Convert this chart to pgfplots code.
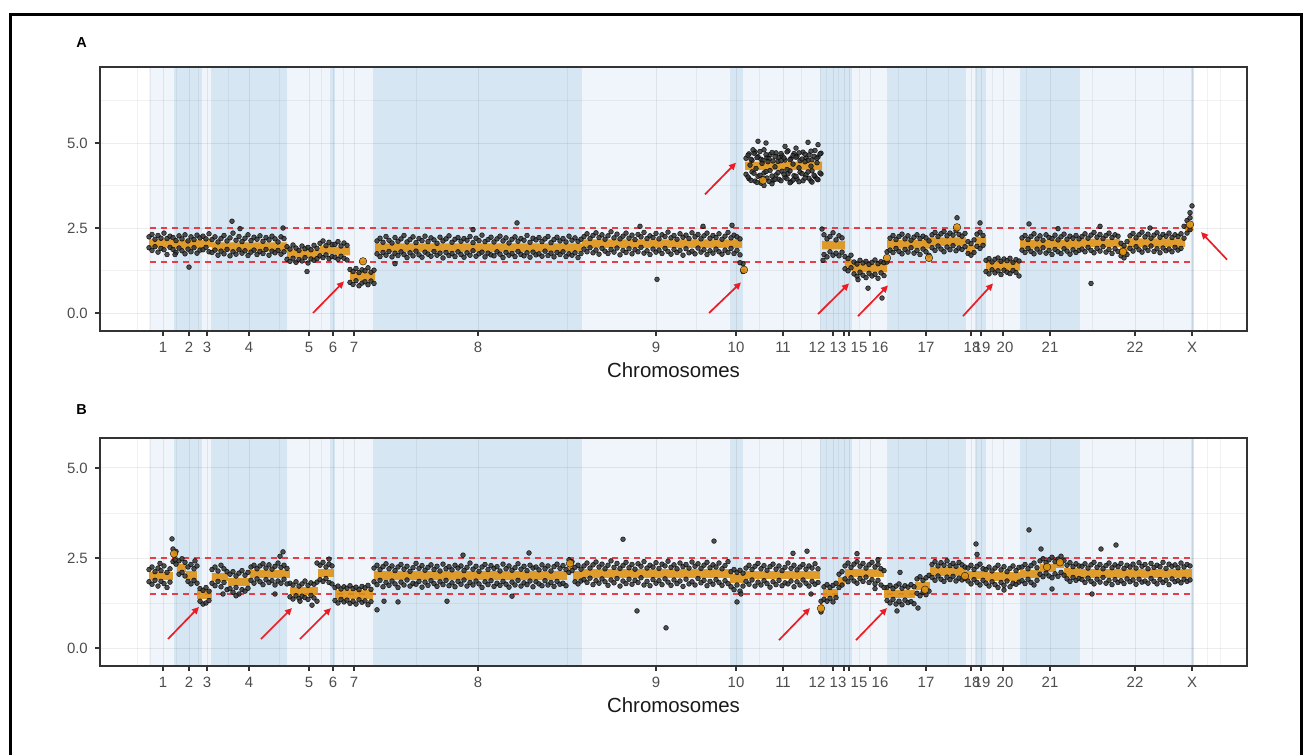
\documentclass[border=0pt]{standalone}
\usepackage{pgfplots}
\pgfplotsset{compat=1.18}
\usepackage{pgfplotstable}
\usepackage{fontspec}
\setmainfont{Liberation Sans}
\usetikzlibrary{arrows.meta}
\definecolor{bandM}{RGB}{214,230,242}
\definecolor{bandL}{RGB}{239,245,250}
\definecolor{orng}{RGB}{222,145,18}
\definecolor{redd}{RGB}{232,60,72}
\definecolor{arrred}{RGB}{237,28,36}
\definecolor{tickgrey}{RGB}{77,77,77}
\definecolor{framec}{RGB}{51,51,51}

\pgfplotstableread{
x u l
149 2.24 1.92
152 2.31 1.84
155 2.17 1.95
158 2.28 1.79
161 2.20 1.90
164 2.35 1.86
167 2.19 1.72
170 2.26 1.93
173 2.22 1.87
176 2.13 1.78
179 2.27 1.91
182 2.18 1.83
185 2.30 1.74
188 2.12 1.88
191 2.24 1.80
194 2.16 1.92
197 2.29 1.76
200 2.21 1.85
203 2.26 1.86
206 2.18 1.93
209 2.33 1.80
212 2.16 1.78
215 2.24 1.85
218 2.09 1.70
221 2.19 1.82
224 2.28 1.74
227 2.12 1.87
230 2.21 1.68
233 2.35 1.80
236 2.14 1.73
239 2.25 1.86
242 2.10 1.76
245 2.20 1.83
248 2.30 1.69
251 2.13 1.79
254 2.23 1.85
257 2.17 1.72
260 2.27 1.81
263 2.11 1.75
266 2.22 1.87
269 2.15 1.70
272 2.26 1.82
275 2.18 1.77
278 2.09 1.84
281 2.24 1.73
284 2.19 1.80
287 1.95 1.58
290 1.88 1.52
293 2.00 1.61
296 1.91 1.49
299 1.84 1.57
302 1.97 1.53
305 1.89 1.63
308 1.93 1.47
311 1.86 1.59
314 1.99 1.55
317 1.90 1.60
320 2.05 1.68
323 2.12 1.63
326 1.98 1.71
329 2.08 1.60
332 2.01 1.66
335 2.02 1.64
338 2.10 1.58
341 1.97 1.67
344 2.06 1.61
347 1.99 1.56
350 1.28 0.90
353 1.22 0.84
356 1.31 0.95
359 1.19 0.80
362 1.27 0.88
365 1.24 0.92
368 1.33 0.83
371 1.20 0.94
374 1.26 0.87
377 2.12 1.74
380 2.20 1.66
383 2.08 1.78
386 2.25 1.70
389 2.14 1.81
392 2.06 1.65
395 2.22 1.76
398 2.11 1.69
401 2.18 1.80
404 2.28 1.72
407 2.09 1.63
410 2.16 1.77
413 2.24 1.68
416 2.07 1.82
419 2.19 1.71
422 2.13 1.64
425 2.26 1.79
428 2.10 1.73
431 2.21 1.67
434 2.15 1.81
437 2.05 1.70
440 2.23 1.76
443 2.12 1.62
446 2.18 1.78
449 2.27 1.69
452 2.08 1.75
455 2.17 1.66
458 2.22 1.80
461 2.11 1.72
464 2.19 1.64
467 2.14 1.77
470 2.25 1.70
473 2.07 1.83
476 2.20 1.67
479 2.13 1.74
482 2.29 1.79
485 2.10 1.65
488 2.16 1.76
491 2.23 1.71
494 2.09 1.68
497 2.18 1.80
500 2.26 1.73
503 2.12 1.63
506 2.21 1.78
509 2.06 1.70
512 2.17 1.75
515 2.24 1.66
518 2.11 1.81
521 2.19 1.72
524 2.14 1.68
527 2.28 1.77
530 2.08 1.64
533 2.20 1.79
536 2.15 1.71
539 2.22 1.74
542 2.10 1.67
545 2.18 1.82
548 2.25 1.69
551 2.07 1.76
554 2.16 1.65
557 2.23 1.78
560 2.12 1.72
563 2.19 1.80
566 2.09 1.66
569 2.26 1.74
572 2.14 1.70
575 2.21 1.77
578 2.11 1.63
581 2.17 1.75
584 2.25 1.88
587 2.33 1.80
590 2.19 1.92
593 2.28 1.77
596 2.36 1.85
599 2.22 1.73
602 2.30 1.90
605 2.17 1.82
608 2.27 1.75
611 2.39 1.87
614 2.21 1.79
617 2.32 1.91
620 2.18 1.71
623 2.26 1.84
626 2.35 1.78
629 2.20 1.89
632 2.29 1.74
635 2.16 1.86
638 2.31 1.80
641 2.24 1.93
644 2.37 1.76
647 2.19 1.83
650 2.27 1.72
653 2.22 1.88
656 2.34 1.79
659 2.18 1.85
662 2.30 1.75
665 2.25 1.90
668 2.38 1.81
671 2.21 1.73
674 2.28 1.87
677 2.17 1.78
680 2.33 1.84
683 2.23 1.70
686 2.29 1.89
689 2.19 1.77
692 2.36 1.82
695 2.24 1.74
698 2.31 1.91
701 2.18 1.79
704 2.27 1.86
707 2.35 1.72
710 2.20 1.83
713 2.28 1.76
716 2.22 1.88
719 2.33 1.80
722 2.17 1.73
725 2.26 1.85
728 2.37 1.78
731 2.21 1.90
734 2.29 1.75
737 2.24 1.84
740 2.18 1.71
743 1.45 1.22
746 4.55 4.08
749 4.68 3.95
752 4.49 4.15
755 4.74 3.88
758 4.60 4.02
761 4.52 3.82
764 4.80 4.12
767 4.57 3.97
770 4.66 4.19
773 4.47 3.90
776 4.71 4.06
779 4.58 3.93
782 4.63 4.17
785 4.50 3.99
788 4.77 4.10
791 4.54 3.86
794 4.69 4.04
797 4.61 3.94
800 4.48 4.14
803 4.73 3.89
806 4.56 4.07
809 4.65 3.96
812 4.51 4.18
815 4.78 4.01
818 4.59 3.92
821 4.70 4.09
824 2.30 1.72
827 2.18 1.65
830 2.25 1.80
833 2.36 1.70
836 2.15 1.76
839 2.27 1.68
842 2.21 1.79
845 1.66 1.30
848 1.60 1.24
851 1.70 1.33
854 1.50 1.15
857 1.44 1.08
860 1.55 1.20
863 1.47 1.11
866 1.52 1.04
869 1.43 1.17
872 1.49 1.09
875 1.56 1.14
878 1.45 1.02
881 1.51 1.18
884 1.48 1.10
887 1.80 1.50
890 2.20 1.85
893 2.28 1.78
896 2.16 1.90
899 2.25 1.81
902 2.32 1.74
905 2.18 1.87
908 2.27 1.79
911 2.14 1.92
914 2.23 1.76
917 2.30 1.84
920 2.19 1.72
923 2.26 1.88
926 2.21 1.80
929 2.12 1.70
932 2.30 1.92
935 2.37 1.84
938 2.25 1.97
941 2.33 1.88
944 2.40 1.80
947 2.27 1.94
950 2.35 1.86
953 2.29 1.98
956 2.42 1.83
959 2.31 1.91
962 2.26 1.87
965 2.34 1.95
968 2.10 1.75
971 2.04 1.70
974 2.15 1.78
977 2.32 1.96
980 2.38 1.90
983 2.28 1.99
986 1.55 1.22
989 1.60 1.15
992 1.50 1.27
995 1.58 1.18
998 1.62 1.24
1001 1.52 1.13
1004 1.59 1.26
1007 1.54 1.20
1010 1.61 1.16
1013 1.49 1.25
1016 1.57 1.19
1019 1.53 1.09
1022 2.21 1.85
1025 2.28 1.78
1028 2.16 1.90
1031 2.25 1.81
1034 2.33 1.74
1037 2.18 1.88
1040 2.27 1.79
1043 2.14 1.92
1046 2.30 1.76
1049 2.22 1.84
1052 2.19 1.72
1055 2.29 1.87
1058 2.15 1.80
1061 2.24 1.75
1064 2.32 1.89
1067 2.17 1.82
1070 2.26 1.73
1073 2.20 1.86
1076 2.28 1.78
1079 2.18 1.84
1082 2.25 1.88
1085 2.33 1.80
1088 2.20 1.93
1091 2.29 1.84
1094 2.37 1.77
1097 2.23 1.90
1100 2.31 1.82
1103 2.19 1.95
1106 2.28 1.79
1109 2.35 1.87
1112 2.22 1.75
1115 2.30 1.89
1118 2.26 1.81
1121 2.05 1.68
1124 1.98 1.62
1127 2.10 1.72
1130 2.27 1.90
1133 2.34 1.82
1136 2.21 1.95
1139 2.30 1.86
1142 2.38 1.79
1145 2.24 1.92
1148 2.32 1.84
1151 2.20 1.97
1154 2.29 1.81
1157 2.36 1.89
1160 2.23 1.77
1163 2.31 1.91
1166 2.26 1.83
1169 2.35 1.88
1172 2.22 1.80
1175 2.30 1.93
1178 2.25 1.85
1181 2.33 1.90
1184 2.55 2.20
1187 2.72 2.35
1190 2.80 2.45
}\dataA

\pgfplotstableread{
x u l
748 4.64 4.00
751 4.52 3.90
754 4.70 4.11
757 4.57 3.84
760 4.75 4.05
763 4.49 3.96
766 4.66 4.16
769 4.54 3.87
772 4.72 4.03
775 4.60 3.93
778 4.46 4.13
781 4.69 3.89
784 4.56 4.08
787 4.74 3.95
790 4.51 4.18
793 4.63 3.91
796 4.58 4.02
799 4.71 3.86
802 4.53 4.10
805 4.67 3.97
808 4.49 4.15
811 4.76 3.88
814 4.61 4.05
817 4.55 3.94
820 4.68 4.12
}\gainA

\pgfplotstableread{
x y
175 1.72
189 1.35
232 2.70
240 2.48
283 2.50
307 1.22
395 1.45
473 2.45
517 2.65
640 2.55
657 0.99
703 2.55
732 2.58
740 1.48
750 4.35
753 4.80
756 4.25
758 5.05
762 4.40
764 3.75
766 5.00
768 4.45
772 3.80
775 4.30
781 4.48
785 4.90
787 4.22
790 3.83
793 4.38
796 4.85
799 4.27
805 4.45
808 5.02
811 4.32
812 3.85
817 4.42
818 4.95
822 2.47
823 1.55
858 0.98
868 0.73
882 0.44
957 2.80
980 2.65
1029 2.62
1058 2.48
1091 0.87
1100 2.55
1150 2.50
1190 2.95
1192 3.15
}\extraA

\pgfplotstableread{
x u l
149 2.18 1.84
152 2.25 1.77
155 2.12 1.88
158 2.22 1.72
161 2.15 1.85
164 2.28 1.79
167 2.10 1.68
170 2.20 1.83
173 2.75 2.40
176 2.68 2.33
179 2.42 2.05
182 2.48 2.10
185 2.38 2.00
188 2.25 1.85
191 2.32 1.78
194 2.20 1.88
197 2.28 1.80
200 1.65 1.30
203 1.60 1.22
206 1.68 1.25
209 1.58 1.32
212 2.18 1.80
215 2.25 1.73
218 2.14 1.85
221 2.30 1.70
224 2.20 1.82
227 2.12 1.62
230 2.05 1.65
233 2.12 1.55
236 2.00 1.68
239 2.08 1.50
242 2.15 1.62
245 2.02 1.58
248 2.10 1.66
251 2.25 1.88
254 2.30 1.80
257 2.20 1.92
260 2.28 1.84
263 2.34 1.76
266 2.22 1.90
269 2.31 1.82
272 2.19 1.87
275 2.27 1.75
278 2.36 1.86
281 2.24 1.80
284 2.30 1.91
287 2.21 1.78
290 1.80 1.42
293 1.75 1.36
296 1.84 1.45
299 1.72 1.38
302 1.78 1.44
305 1.86 1.40
308 1.74 1.35
311 1.81 1.46
314 1.77 1.39
317 1.83 1.30
320 2.30 1.90
323 2.38 1.85
326 2.25 1.93
329 2.33 1.82
332 2.28 1.78
335 1.68 1.32
338 1.72 1.25
341 1.64 1.35
344 1.70 1.28
347 1.66 1.33
350 1.73 1.24
353 1.65 1.30
356 1.69 1.22
359 1.62 1.34
362 1.71 1.27
365 1.67 1.31
368 1.74 1.20
371 1.63 1.29
374 2.22 1.84
377 2.30 1.76
380 2.18 1.88
383 2.26 1.70
386 2.34 1.82
389 2.20 1.74
392 2.28 1.86
395 2.15 1.78
398 2.25 1.68
401 2.32 1.83
404 2.19 1.75
407 2.27 1.89
410 2.13 1.72
413 2.23 1.80
416 2.35 1.77
419 2.21 1.85
422 2.29 1.69
425 2.16 1.83
428 2.24 1.74
431 2.31 1.87
434 2.18 1.79
437 2.27 1.71
440 2.14 1.84
443 2.33 1.76
446 2.20 1.88
449 2.26 1.73
452 2.17 1.81
455 2.30 1.70
458 2.22 1.85
461 2.28 1.77
464 2.15 1.89
467 2.24 1.72
470 2.36 1.82
473 2.19 1.75
476 2.27 1.86
479 2.13 1.78
482 2.25 1.68
485 2.32 1.84
488 2.18 1.76
491 2.29 1.87
494 2.21 1.71
497 2.26 1.80
500 2.14 1.74
503 2.33 1.85
506 2.20 1.77
509 2.28 1.69
512 2.16 1.83
515 2.23 1.75
518 2.34 1.88
521 2.19 1.72
524 2.27 1.81
527 2.15 1.76
530 2.30 1.86
533 2.22 1.70
536 2.25 1.84
539 2.17 1.78
542 2.31 1.73
545 2.20 1.87
548 2.28 1.75
551 2.14 1.82
554 2.26 1.71
557 2.33 1.85
560 2.21 1.77
563 2.29 1.80
566 2.18 1.73
569 2.45 2.10
572 2.40 2.15
575 2.24 1.84
578 2.30 1.78
581 2.19 1.86
584 2.28 1.90
587 2.36 1.82
590 2.22 1.94
593 2.31 1.76
596 2.39 1.87
599 2.25 1.80
602 2.33 1.92
605 2.20 1.84
608 2.30 1.74
611 2.42 1.89
614 2.24 1.81
617 2.35 1.93
620 2.21 1.72
623 2.29 1.86
626 2.38 1.79
629 2.23 1.91
632 2.32 1.77
635 2.19 1.88
638 2.34 1.82
641 2.27 1.95
644 2.40 1.75
647 2.22 1.85
650 2.30 1.73
653 2.25 1.90
656 2.37 1.80
659 2.21 1.87
662 2.33 1.76
665 2.28 1.92
668 2.41 1.83
671 2.24 1.74
674 2.31 1.89
677 2.20 1.79
680 2.36 1.86
683 2.26 1.71
686 2.32 1.91
689 2.22 1.78
692 2.39 1.84
695 2.27 1.75
698 2.34 1.93
701 2.21 1.81
704 2.30 1.88
707 2.38 1.73
710 2.23 1.85
713 2.31 1.77
716 2.25 1.90
719 2.36 1.82
722 2.20 1.74
725 2.29 1.87
728 2.40 1.79
731 2.12 1.70
734 2.18 1.62
737 2.10 1.75
740 2.16 1.58
743 2.08 1.72
746 2.22 1.85
749 2.30 1.77
752 2.18 1.89
755 2.27 1.72
758 2.35 1.83
761 2.20 1.75
764 2.29 1.87
767 2.16 1.79
770 2.26 1.69
773 2.33 1.84
776 2.19 1.76
779 2.28 1.88
782 2.15 1.73
785 2.24 1.81
788 2.36 1.78
791 2.21 1.86
794 2.30 1.70
797 2.17 1.84
800 2.25 1.75
803 2.32 1.89
806 2.19 1.80
809 2.28 1.72
812 2.22 1.85
815 2.34 1.77
818 2.20 1.82
821 1.30 1.00
824 1.70 1.35
827 1.76 1.30
830 1.68 1.38
833 1.74 1.28
836 1.80 1.40
839 2.05 1.68
842 2.12 1.75
845 2.28 1.92
848 2.36 1.84
851 2.24 1.95
854 2.33 1.86
857 2.40 1.80
860 2.27 1.93
863 2.35 1.85
866 2.22 1.97
869 2.31 1.82
872 2.38 1.90
875 2.25 1.78
878 2.32 1.88
881 2.20 1.75
884 2.15 1.68
887 1.68 1.32
890 1.74 1.25
893 1.65 1.35
896 1.72 1.22
899 1.78 1.30
902 1.66 1.20
905 1.73 1.33
908 1.69 1.26
911 1.76 1.29
914 1.70 1.23
917 1.92 1.52
920 1.98 1.45
923 1.88 1.55
926 1.95 1.48
929 2.02 1.58
932 2.32 1.96
935 2.40 1.88
938 2.28 2.00
941 2.37 1.91
944 2.30 1.85
947 2.42 1.97
950 2.29 1.90
953 2.35 1.99
956 2.27 1.86
959 2.38 1.94
962 2.31 1.89
965 2.25 1.93
968 2.22 1.86
971 2.30 1.78
974 2.18 1.90
977 2.27 1.82
980 2.33 1.75
983 2.20 1.88
986 2.18 1.80
989 2.25 1.72
992 2.14 1.84
995 2.22 1.76
998 2.30 1.68
1001 2.17 1.82
1004 2.26 1.74
1007 2.12 1.86
1010 2.21 1.70
1013 2.28 1.80
1016 2.15 1.77
1019 2.24 1.83
1022 2.25 1.87
1025 2.32 1.79
1028 2.20 1.91
1031 2.29 1.82
1034 2.36 1.75
1037 2.23 1.88
1040 2.42 2.05
1043 2.48 1.98
1046 2.38 2.08
1049 2.45 2.00
1052 2.52 1.95
1055 2.40 2.06
1058 2.47 1.99
1061 2.55 2.10
1064 2.43 2.02
1067 2.30 1.92
1070 2.37 1.85
1073 2.26 1.96
1076 2.34 1.88
1079 2.28 1.93
1082 2.27 1.90
1085 2.34 1.82
1088 2.22 1.94
1091 2.31 1.85
1094 2.38 1.78
1097 2.24 1.91
1100 2.32 1.83
1103 2.20 1.96
1106 2.29 1.80
1109 2.36 1.88
1112 2.23 1.76
1115 2.31 1.90
1118 2.26 1.82
1121 2.35 1.87
1124 2.21 1.79
1127 2.30 1.92
1130 2.25 1.84
1133 2.33 1.89
1136 2.22 1.77
1139 2.37 1.91
1142 2.27 1.83
1145 2.32 1.86
1148 2.20 1.80
1151 2.35 1.93
1154 2.24 1.85
1157 2.30 1.78
1160 2.26 1.90
1163 2.38 1.82
1166 2.21 1.88
1169 2.33 1.76
1172 2.27 1.92
1175 2.31 1.84
1178 2.23 1.87
1181 2.36 1.81
1184 2.25 1.91
1187 2.32 1.85
1190 2.28 1.89
}\dataB

\pgfplotstableread{
x y
160 2.35
172 3.03
175 2.45
195 2.42
223 1.50
236 1.45
275 1.50
280 2.55
283 2.67
300 1.30
312 1.19
317 2.36
329 2.47
377 1.06
384 1.30
398 1.28
447 1.30
463 2.58
512 1.44
529 2.64
623 3.02
637 1.03
666 0.56
714 2.97
737 1.28
741 1.50
793 2.63
807 2.69
811 1.50
857 2.62
875 1.65
878 2.45
897 1.03
900 2.10
918 1.11
976 2.89
977 2.60
1004 1.61
1029 3.28
1041 2.75
1052 1.64
1092 1.50
1101 2.75
1116 2.86
}\extraB

\newcommand{\band}[5]{\addplot[fill=#3, draw=none, on layer=axis background, forget plot] coordinates {(#1,#4) (#2,#4) (#2,#5) (#1,#5)} -- cycle;}
\newcommand{\allbands}[2]{%
\band{149}{174}{bandL}{#1}{#2}\band{174}{202}{bandM}{#1}{#2}\band{202}{211}{bandL}{#1}{#2}\band{211}{287}{bandM}{#1}{#2}%
\band{287}{330}{bandL}{#1}{#2}\band{330}{335}{bandM}{#1}{#2}\band{335}{373}{bandL}{#1}{#2}\band{373}{582}{bandM}{#1}{#2}%
\band{582}{730}{bandL}{#1}{#2}\band{730}{743}{bandM}{#1}{#2}\band{743}{820}{bandL}{#1}{#2}\band{820}{852}{bandM}{#1}{#2}%
\band{852}{887}{bandL}{#1}{#2}\band{887}{966}{bandM}{#1}{#2}\band{966}{975}{bandL}{#1}{#2}\band{975}{986}{bandM}{#1}{#2}%
\band{986}{1020}{bandL}{#1}{#2}\band{1020}{1080}{bandM}{#1}{#2}\band{1080}{1191}{bandL}{#1}{#2}\band{1191}{1193.5}{bandM}{#1}{#2}}

\tikzset{arr/.style={arrred, line width=1.7bp, -{Triangle[length=7bp,width=6.5bp]}}}

\pgfplotsset{
  panel/.style={
    set layers,
    scale only axis, width=1147bp,
    xmin=100, xmax=1247,
    axis line style={draw=framec, line width=1.8bp},
    tick style={draw=framec, line width=1.1bp},
    major tick length=5bp, minor tick length=0pt,
    tick align=outside,
    xtick pos=bottom, ytick pos=left,
    xtick={163,189,207,249,309,333,354,478,656,736,783,833,844,849,870,926,971,981,1003,1050,1135,1192},
    xticklabels={},
    minor xtick={137,150,176,198,228,279,321,343.5,416,567,696,759.5,801.5,820,826.5,838.5,859.5,898,948.5,976,992,1026.5,1092.5,1163.5,1207,1220},
    extra x ticks={163,189,207,249,309,333,354,478,656,736,783,817,838,859,880,926,972,982,1005,1050,1135,1192},
    extra x tick labels={1,2,3,4,5,6,7,8,9,10,11,12,13,15,16,17,18,19,20,21,22,X},
    extra x tick style={major tick length=0pt, grid=none, xticklabel style={anchor=north, inner sep=0pt, yshift=-11bp}},
    ytick={0,2.5,5}, yticklabels={0.0,2.5,5.0},
    yticklabel style={anchor=east, inner sep=0pt, xshift=-7bp},
    grid=both,
    major grid style={draw=black, draw opacity=0.07, line width=1bp},
    minor grid style={draw=black, draw opacity=0.05, line width=0.6bp},
    tick label style={font=\fontsize{15}{17}\selectfont, text=tickgrey},
    xlabel={Chromosomes},
    xlabel style={at={(axis description cs:0.5,0)}, anchor=north, inner sep=0pt, yshift=-31bp, font=\fontsize{20.5}{22}\selectfont, text=black!90},
  },
  pts/.style={only marks, mark=*, mark size=2.4bp, mark options={draw=black, fill=black!80, line width=0.5bp}, opacity=0.85},
  hl/.style={redd, line width=1.5bp, dash pattern=on 6bp off 5bp, unbounded coords=jump},
  seg/.style={orng, line width=8.5bp, opacity=0.88, unbounded coords=jump},
  odot/.style={only marks, mark=*, mark size=3.8bp, mark options={draw=none, fill=orng}, opacity=0.9},
}

\begin{document}
\begin{tikzpicture}
\draw[line width=3bp] (10bp,-755bp) -- (10bp,-14bp) -- (1301bp,-14bp) -- (1301bp,-755bp);
\node[font=\fontsize{14.5}{16}\selectfont\bfseries, inner sep=0pt] at (81.5bp,-43bp) {A};
\node[font=\fontsize{14.5}{16}\selectfont\bfseries, inner sep=0pt] at (81.5bp,-410bp) {B};

\begin{axis}[panel, at={(100bp,-331bp)}, anchor=south west, height=264bp,
  ymin=-0.5294, ymax=7.2353, minor ytick={1.25,3.75,6.25}]
\allbands{-0.5294}{7.2353}
\addplot[pts] table[x=x,y=u] {\dataA};
\addplot[pts] table[x=x,y=l] {\dataA};
\addplot[pts] table[x=x,y=u] {\gainA};
\addplot[pts] table[x=x,y=l] {\gainA};
\addplot[pts] table[x=x,y=y] {\extraA};
\addplot[hl] coordinates {(150,2.5) (1192,2.5) (1192,nan) (150,1.5) (1192,1.5)};
\addplot[seg] coordinates {(149,2.05) (172,2.05) (172,nan) (172,2.02) (203,2.02) (203,nan) (203,2.06) (212,2.06) (212,nan)
 (212,1.95) (287,1.95) (287,nan) (287,1.74) (320,1.74) (320,nan) (320,1.86) (335,1.86) (335,nan) (335,1.82) (350,1.82) (350,nan)
 (350,1.08) (375,1.08) (375,nan) (375,1.92) (582,1.92) (582,nan) (582,2.04) (742,2.04) (742,nan) (745,4.33) (822,4.33) (822,nan)
 (822,2.0) (845,2.0) (845,nan) (845,1.47) (852,1.47) (852,nan) (852,1.32) (887,1.32) (887,nan) (887,2.02) (929,2.02) (929,nan)
 (929,2.1) (966,2.1) (966,nan) (966,1.88) (975,1.88) (975,nan) (975,2.12) (986,2.12) (986,nan) (986,1.37) (1020,1.37) (1020,nan)
 (1020,2.02) (1080,2.02) (1080,nan) (1080,2.06) (1120,2.06) (1120,nan) (1120,1.85) (1128,1.85) (1128,nan) (1128,2.07) (1185,2.07) (1185,nan)
 (1185,2.45) (1192,2.55)};
\addplot[odot] coordinates {(363,1.52) (744,1.27) (763,3.9) (929,1.62) (957,2.52) (1190,2.6) (887,1.62) (1123,1.8)};
\draw[arr] (axis cs:313,0.0) -- (axis cs:344,0.93);
\draw[arr] (axis cs:705,3.49) -- (axis cs:736,4.42);
\draw[arr] (axis cs:709,0.0) -- (axis cs:741,0.90);
\draw[arr] (axis cs:818,-0.03) -- (axis cs:849,0.87);
\draw[arr] (axis cs:858,-0.09) -- (axis cs:888,0.81);
\draw[arr] (axis cs:963,-0.09) -- (axis cs:993,0.87);
\draw[arr] (axis cs:1227,1.57) -- (axis cs:1201,2.38);
\end{axis}

\begin{axis}[panel, at={(100bp,-666bp)}, anchor=south west, height=228bp,
  ymin=-0.5, ymax=5.833, minor ytick={1.25,3.75}]
\allbands{-0.5}{5.833}
\addplot[pts] table[x=x,y=u] {\dataB};
\addplot[pts] table[x=x,y=l] {\dataB};
\addplot[pts] table[x=x,y=y] {\extraB};
\addplot[hl] coordinates {(150,2.5) (1192,2.5) (1192,nan) (150,1.5) (1192,1.5)};
\addplot[seg] coordinates {(149,2.0) (173,2.0) (173,nan) (173,2.6) (177,2.6) (177,nan) (177,2.22) (186,2.22) (186,nan)
 (186,2.02) (197,2.02) (197,nan) (197,1.48) (212,1.48) (212,nan) (212,1.97) (228,1.97) (228,nan) (228,1.84) (250,1.84) (250,nan)
 (250,2.05) (290,2.05) (290,nan) (290,1.58) (318,1.58) (318,nan) (318,2.08) (334,2.08) (334,nan) (335,1.48) (373,1.48) (373,nan)
 (374,2.02) (567,2.02) (567,nan) (567,2.3) (573,2.3) (573,nan) (573,2.02) (582,2.02) (582,nan) (582,2.07) (730,2.07) (730,nan)
 (730,1.93) (744,1.93) (744,nan) (744,2.03) (820,2.03) (820,nan) (820,1.1) (823,1.1) (823,nan) (823,1.53) (838,1.53) (838,nan)
 (838,1.85) (845,1.85) (845,nan) (845,2.08) (884,2.08) (884,nan) (884,1.5) (915,1.5) (915,nan) (915,1.72) (930,1.72) (930,nan)
 (930,2.12) (966,2.12) (966,nan) (966,2.03) (986,2.03) (986,nan) (986,1.98) (1020,1.98) (1020,nan) (1020,2.05) (1040,2.05) (1040,nan)
 (1040,2.22) (1056,2.22) (1056,nan) (1056,2.35) (1064,2.35) (1064,nan) (1064,2.1) (1080,2.1) (1080,nan) (1080,2.07) (1192,2.07)};
\addplot[odot] coordinates {(174,2.62) (821,1.1) (1047,2.25) (1060,2.38) (925,1.62) (570,2.35) (965,2.0)};
\draw[arr] (axis cs:168,0.25) -- (axis cs:199,1.14);
\draw[arr] (axis cs:261,0.25) -- (axis cs:292,1.11);
\draw[arr] (axis cs:300,0.25) -- (axis cs:331,1.11);
\draw[arr] (axis cs:779,0.22) -- (axis cs:810,1.11);
\draw[arr] (axis cs:856,0.22) -- (axis cs:887,1.11);
\end{axis}
\pgfresetboundingbox
\useasboundingbox (0,0) rectangle (1305bp,-755bp);
\end{tikzpicture}
\end{document}
